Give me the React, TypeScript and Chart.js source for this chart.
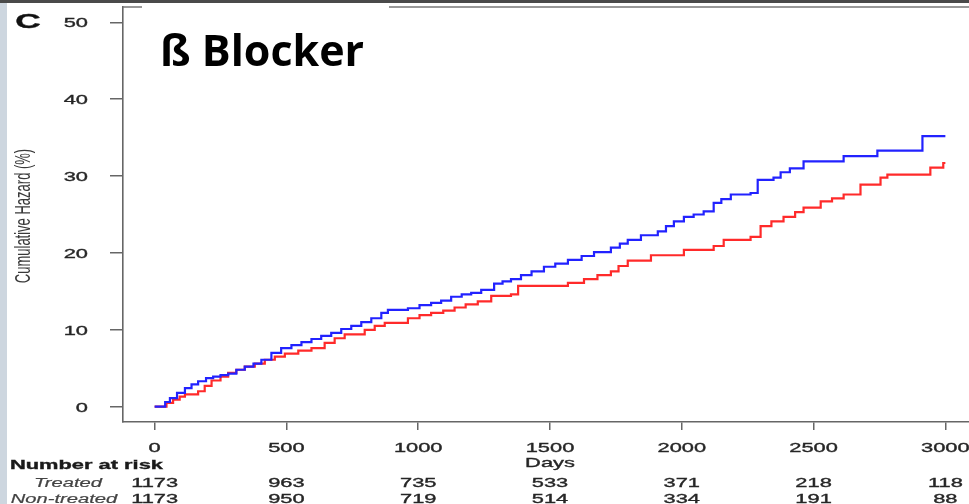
import React, { useEffect, useRef } from "react";
import { Chart, registerables } from "chart.js";

Chart.register(...registerables);

// Cumulative hazard step curves (days, %)
const nonTreatedDays = [0, 40, 58, 85, 115, 140, 165, 195, 222, 250, 279, 310, 342, 375, 405, 443, 480, 519, 557, 595, 632, 670, 708, 746, 784, 822, 860, 885, 961, 1005, 1049, 1087, 1125, 1165, 1201, 1239, 1288, 1320, 1352, 1390, 1430, 1477, 1520, 1568, 1620, 1667, 1731, 1765, 1795, 1845, 1909, 1940, 1970, 2008, 2045, 2083, 2121, 2150, 2186, 2261, 2288, 2348, 2375, 2410, 2462, 2614, 2742, 2913, 3000];
const nonTreatedHazard = [0, 0.6, 1.1, 1.8, 2.4, 2.9, 3.3, 3.7, 3.9, 4.1, 4.3, 4.8, 5.2, 5.6, 6.1, 7.0, 7.6, 8.0, 8.4, 8.8, 9.2, 9.6, 10.1, 10.5, 11.0, 11.5, 12.2, 12.6, 12.8, 13.2, 13.5, 13.8, 14.3, 14.6, 14.8, 15.2, 16.0, 16.3, 16.6, 17.1, 17.6, 18.2, 18.6, 19.1, 19.6, 20.1, 20.7, 21.2, 21.7, 22.3, 22.8, 23.5, 24.1, 24.7, 25.0, 25.4, 26.5, 27.0, 27.6, 27.8, 29.5, 29.8, 30.5, 31.0, 31.9, 32.6, 33.3, 35.2, 35.2];

const treatedDays = [0, 45, 70, 95, 115, 165, 190, 216, 250, 279, 310, 342, 380, 418, 456, 494, 545, 595, 645, 683, 721, 797, 835, 873, 961, 1005, 1049, 1095, 1138, 1180, 1226, 1277, 1352, 1379, 1568, 1629, 1680, 1731, 1760, 1795, 1883, 2008, 2121, 2159, 2261, 2299, 2340, 2386, 2430, 2462, 2527, 2570, 2614, 2678, 2754, 2780, 2943, 2992, 3000];
const treatedHazard = [0, 0.5, 0.9, 1.3, 1.6, 2.0, 2.7, 3.4, 3.9, 4.4, 4.8, 5.2, 5.6, 6.1, 6.5, 6.9, 7.3, 7.6, 8.3, 8.9, 9.4, 10.0, 10.5, 10.9, 11.5, 11.9, 12.2, 12.5, 12.9, 13.3, 13.7, 14.4, 14.6, 15.7, 16.1, 16.6, 17.1, 17.6, 18.3, 19.0, 19.7, 20.4, 20.9, 21.7, 22.1, 23.5, 24.1, 24.7, 25.3, 25.9, 26.7, 27.1, 27.6, 28.9, 29.8, 30.2, 31.1, 31.7, 31.7];

const xTicks = [0, 500, 1000, 1500, 2000, 2500, 3000];
const yTicks = [0, 10, 20, 30, 40, 50];

// Number-at-risk table
const riskDays = [0, 500, 1000, 1500, 2000, 2500, 3000];
const treatedAtRisk = [1173, 963, 735, 533, 371, 218, 118];
const nonTreatedAtRisk = [1173, 950, 719, 514, 334, 191, 88];

const SX = 1.68; // horizontal text stretch
const BASE_FONT = '"Liberation Sans", Arial, sans-serif';

function stretchedText(
  ctx: CanvasRenderingContext2D,
  text: string,
  x: number,
  y: number,
  align: CanvasTextAlign,
  baseline: CanvasTextBaseline = "alphabetic",
  heavy = 0.35
) {
  ctx.save();
  ctx.translate(x, y);
  ctx.scale(SX, 1);
  ctx.textAlign = align;
  ctx.textBaseline = baseline;
  ctx.fillText(text, 0, 0);
  if (heavy > 0) {
    ctx.strokeStyle = ctx.fillStyle as string;
    ctx.lineWidth = heavy;
    ctx.strokeText(text, 0, 0);
  }
  ctx.restore();
}

const annotations = {
  id: "kmAnnotations",
  afterDraw(chart: any) {
    const ctx: CanvasRenderingContext2D = chart.ctx;
    const xs = chart.scales.x;
    const ys = chart.scales.y;
    const area = chart.chartArea;

    ctx.save();
    // top edge of the plot box
    ctx.strokeStyle = "#777";
    ctx.lineWidth = 1.6;
    ctx.beginPath();
    ctx.moveTo(area.left, area.top);
    ctx.lineTo(chart.width, area.top);
    ctx.stroke();

    // y tick labels
    ctx.fillStyle = "#262626";
    ctx.font = `13px ${BASE_FONT}`;
    yTicks.forEach((v) => {
      stretchedText(ctx, String(v), 88, ys.getPixelForValue(v) + 1.5, "right", "middle");
    });

    // x tick labels
    xTicks.forEach((v) => {
      stretchedText(ctx, String(v), xs.getPixelForValue(v), 452, "center");
    });
    stretchedText(ctx, "Days", xs.getPixelForValue(1500), 467, "center");

    // y axis title
    ctx.save();
    ctx.fillStyle = "#3a3a3a";
    ctx.translate(24, 216);
    ctx.scale(SX, 1);
    ctx.rotate(-Math.PI / 2);
    ctx.textAlign = "center";
    ctx.textBaseline = "middle";
    ctx.font = `13px ${BASE_FONT}`;
    ctx.fillText("Cumulative Hazard (%)", 0, 0);
    ctx.restore();

    // panel letter
    ctx.fillStyle = "#111";
    ctx.font = `bold 21px ${BASE_FONT}`;
    stretchedText(ctx, "C", 28, 28, "center");

    // risk table
    ctx.font = `bold 13px ${BASE_FONT}`;
    ctx.fillStyle = "#1a1a1a";
    stretchedText(ctx, "Number at risk", 10, 469, "left");
    ctx.font = `italic 12px ${BASE_FONT}`;
    ctx.fillStyle = "#444";
    stretchedText(ctx, "Treated", 68, 487, "center", "alphabetic", 0.2);
    stretchedText(ctx, "Non-treated", 64, 503, "center", "alphabetic", 0.2);
    ctx.font = `13px ${BASE_FONT}`;
    ctx.fillStyle = "#262626";
    riskDays.forEach((d, i) => {
      const px = xs.getPixelForValue(d);
      stretchedText(ctx, String(treatedAtRisk[i]), px, 487, "center");
      stretchedText(ctx, String(nonTreatedAtRisk[i]), px, 503, "center");
    });

    // title panel
    ctx.fillStyle = "#fff";
    ctx.fillRect(142, 3, 247, 85);
    ctx.fillStyle = "#000";
    ctx.font = 'bold 43px "Open Sans", "Liberation Sans", sans-serif';
    ctx.textAlign = "left";
    ctx.textBaseline = "alphabetic";
    ctx.fillText("ß Blocker", 160, 66);
    ctx.restore();
  },
};

export default function App() {
  const ref = useRef<HTMLCanvasElement | null>(null);

  useEffect(() => {
    if (!ref.current) return;
    const chart = new Chart(ref.current, {
      type: "line",
      data: {
        datasets: [
          {
            label: "Non-treated",
            data: nonTreatedDays.map((d, i) => ({ x: d, y: nonTreatedHazard[i] })),
            borderColor: "#2222ff",
            borderWidth: 2.2,
            pointRadius: 0,
            stepped: true,
            fill: false,
          },
          {
            label: "Treated",
            data: treatedDays.map((d, i) => ({ x: d, y: treatedHazard[i] })),
            borderColor: "#ff2a2a",
            borderWidth: 2.2,
            pointRadius: 0,
            stepped: true,
            fill: false,
          },
        ],
      },
      options: {
        responsive: false,
        maintainAspectRatio: false,
        animation: false,
        layout: { padding: { top: 7, right: 23, left: 0, bottom: 0 } },
        plugins: { legend: { display: false }, tooltip: { enabled: false } },
        scales: {
          x: {
            type: "linear",
            min: -120,
            max: 3120,
            afterBuildTicks: (s: any) => {
              s.ticks = xTicks.map((v) => ({ value: v }));
            },
            afterFit: (s: any) => {
              s.height = 82;
            },
            ticks: { display: false },
            grid: { drawOnChartArea: false, drawTicks: true, tickLength: 8, color: "#666", lineWidth: 1.5 },
            border: { display: true, color: "#666", width: 1.6 },
          },
          y: {
            type: "linear",
            min: -2,
            max: 52,
            afterBuildTicks: (s: any) => {
              s.ticks = yTicks.map((v) => ({ value: v }));
            },
            afterFit: (s: any) => {
              s.width = 123;
            },
            ticks: { display: false },
            grid: { drawOnChartArea: false, drawTicks: true, tickLength: 13, color: "#666", lineWidth: 1.5 },
            border: { display: true, color: "#666", width: 1.6 },
          },
        },
      } as any,
      plugins: [annotations],
    });
    return () => chart.destroy();
  }, []);

  return (
    <div
      style={{
        position: "fixed",
        left: 0,
        top: 0,
        width: 969,
        height: 504,
        overflow: "hidden",
        background: "#fff",
      }}
    >
      <canvas ref={ref} width={1000} height={504} style={{ display: "block" }} />
      <div style={{ position: "absolute", left: 0, top: 0, width: 7, height: 504, background: "#cdd6df" }} />
      <div style={{ position: "absolute", left: 0, top: 0, width: 969, height: 3, background: "#4a4a4a" }} />
    </div>
  );
}
